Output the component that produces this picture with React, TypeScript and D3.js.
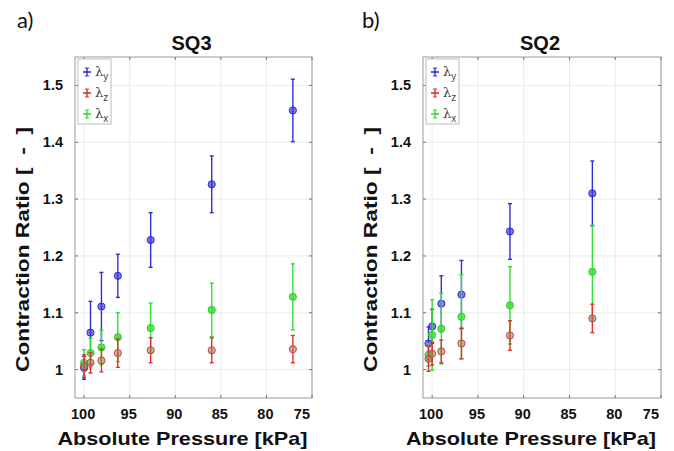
import React from 'react';
import * as d3 from 'd3';

// SQ3 (panel a)
const sq3Pressure = [100, 99.3, 98.1, 96.3, 92.7, 86.0, 77.1];
const sq3Y = [1.003, 1.065, 1.111, 1.165, 1.228, 1.326, 1.456];
const sq3YErr = [0.02, 0.055, 0.06, 0.038, 0.048, 0.05, 0.055];
const sq3Z = [1.006, 1.012, 1.016, 1.029, 1.034, 1.034, 1.036];
const sq3ZErr = [0.02, 0.018, 0.02, 0.025, 0.022, 0.022, 0.024];
const sq3X = [1.012, 1.029, 1.039, 1.057, 1.073, 1.105, 1.128];
const sq3XErr = [0.023, 0.026, 0.03, 0.043, 0.044, 0.047, 0.058];

// SQ2 (panel b)
const sq2Pressure = [100.4, 100.0, 99.0, 96.8, 91.5, 82.5];
const sq2Y = [1.046, 1.076, 1.116, 1.132, 1.243, 1.31];
const sq2YErr = [0.029, 0.03, 0.049, 0.06, 0.049, 0.057];
const sq2Z = [1.019, 1.028, 1.032, 1.046, 1.06, 1.09];
const sq2ZErr = [0.022, 0.02, 0.02, 0.027, 0.026, 0.025];
const sq2X = [1.026, 1.061, 1.072, 1.093, 1.113, 1.172];
const sq2XErr = [0.02, 0.062, 0.062, 0.074, 0.068, 0.082];

const xTicks = [100, 95, 90, 85, 80, 75];
const yTicks = [1, 1.1, 1.2, 1.3, 1.4, 1.5];
const seriesNames = ['y', 'z', 'x'];

const font = '"Liberation Sans", Arial, sans-serif';

const styles = {
  y: { line: '#3030d0', stroke: '#3030d0', fill: 'rgba(50,50,220,0.65)' },
  z: { line: '#e03030', stroke: '#d04040', fill: 'rgba(150,135,80,0.6)' },
  x: { line: '#33dd33', stroke: '#33cc33', fill: 'rgba(60,225,60,0.85)' },
};

const Panel = ({ left, right, tag, tagX, title, pressure, series }) => {
  const top = 57;
  const bottom = 398;
  const x = d3.scaleLinear().domain([101, 75]).range([left, right]);
  const y = d3.scaleLinear().domain([0.95, 1.55]).range([bottom, top]);
  const cx = (left + right) / 2;

  const drawSeries = (key, vals, errs) => {
    const st = styles[key];
    return (
      <g key={key}>
        {vals.map((v, i) => {
          const px = x(pressure[i]);
          const y0 = y(v - errs[i]);
          const y1 = y(v + errs[i]);
          return (
            <g key={i}>
              <line x1={px} x2={px} y1={y0} y2={y1} stroke={st.line} strokeWidth={1.4} />
              <line x1={px - 2} x2={px + 2} y1={y0} y2={y0} stroke={st.line} strokeWidth={1.4} />
              <line x1={px - 2} x2={px + 2} y1={y1} y2={y1} stroke={st.line} strokeWidth={1.4} />
              <circle cx={px} cy={y(v)} r={3.6} fill={st.fill} stroke={st.stroke} strokeWidth={1} />
            </g>
          );
        })}
      </g>
    );
  };

  return (
    <g fontFamily={font}>
      <text x={tagX} y={28} fontSize={22} fill="#111" fontFamily="Lato, sans-serif">{tag}</text>
      <text x={cx - 2} y={50} fontSize={20} fontWeight="bold" textAnchor="middle" fill="#111">{title}</text>
      {/* grid */}
      {xTicks.map((t) => (
        <line key={'gx' + t} x1={x(t)} x2={x(t)} y1={top} y2={bottom} stroke="#ebebeb" />
      ))}
      {yTicks.map((t) => (
        <line key={'gy' + t} x1={left} x2={right} y1={y(t)} y2={y(t)} stroke="#ebebeb" />
      ))}
      <rect x={left} y={top} width={right - left} height={bottom - top} fill="none" stroke="#9a9a9a" />
      {xTicks.map((t, i) => {
        const last = i === xTicks.length - 1;
        return (
          <g key={'tx' + t}>
            <line x1={x(t)} x2={x(t)} y1={bottom} y2={bottom - 3} stroke="#777" />
            <line x1={x(t)} x2={x(t)} y1={top} y2={top + 3} stroke="#777" />
            <text
              x={last ? x(t) - 2 : x(t) - 1}
              y={419}
              fontSize={14.5}
              fontWeight="bold"
              textAnchor={last ? 'end' : 'middle'}
              fill="#111"
            >
              {t}
            </text>
          </g>
        );
      })}
      {yTicks.map((t) => (
        <g key={'ty' + t}>
          <line x1={left} x2={left + 3} y1={y(t)} y2={y(t)} stroke="#777" />
          <line x1={right} x2={right - 3} y1={y(t)} y2={y(t)} stroke="#777" />
          <text x={left - 12} y={y(t) + 5} fontSize={14.5} fontWeight="bold" textAnchor="end" fill="#111">
            {d3.format('~g')(t)}
          </text>
        </g>
      ))}
      <text
        x={cx - 11}
        y={445}
        fontSize={19}
        fontWeight="bold"
        textAnchor="middle"
        fill="#111"
        textLength={250}
        lengthAdjust="spacingAndGlyphs"
      >
        Absolute Pressure [kPa]
      </text>
      <text
        transform={`translate(${left - 46},${(top + bottom) / 2 + 22}) rotate(-90)`}
        fontSize={19}
        fontWeight="bold"
        textAnchor="middle"
        fill="#111"
        xmlSpace="preserve"
        textLength={245}
        lengthAdjust="spacingAndGlyphs"
      >
        {'Contraction Ratio [  -  ]'}
      </text>
      {drawSeries('y', series.y, series.yErr)}
      {drawSeries('x', series.x, series.xErr)}
      {drawSeries('z', series.z, series.zErr)}
      {/* legend */}
      <rect x={left + 3} y={top + 2} width={33} height={65} fill="#fff" stroke="#bbb" />
      {seriesNames.map((k, i) => {
        const ly = top + 15 + i * 21;
        const lx = left + 12;
        const st = styles[k];
        return (
          <g key={'lg' + k}>
            <line x1={lx} x2={lx} y1={ly - 4} y2={ly + 4} stroke={st.line} strokeWidth={1.4} />
            <line x1={lx - 4} x2={lx + 4} y1={ly} y2={ly} stroke={st.line} strokeWidth={1.6} />
            <line x1={lx - 2} x2={lx + 2} y1={ly - 4} y2={ly - 4} stroke={st.line} />
            <line x1={lx - 2} x2={lx + 2} y1={ly + 4} y2={ly + 4} stroke={st.line} />
            <text x={lx + 8} y={ly + 4} fontSize={13} fill="#444" fontFamily='"DejaVu Serif", serif'>
              λ<tspan fontSize={10} dy={4} fontFamily={font}>{k}</tspan>
            </text>
          </g>
        );
      })}
    </g>
  );
};

export default function App() {
  return (
    <svg width={674} height={451} style={{ position: 'absolute', left: 0, top: 0, background: '#fff' }}>
      <rect width={674} height={451} fill="#fff" />
      <Panel
        left={75}
        right={312}
        tag="a)"
        tagX={17}
        title="SQ3"
        pressure={sq3Pressure}
        series={{ y: sq3Y, yErr: sq3YErr, z: sq3Z, zErr: sq3ZErr, x: sq3X, xErr: sq3XErr }}
      />
      <Panel
        left={423}
        right={661}
        tag="b)"
        tagX={362}
        title="SQ2"
        pressure={sq2Pressure}
        series={{ y: sq2Y, yErr: sq2YErr, z: sq2Z, zErr: sq2ZErr, x: sq2X, xErr: sq2XErr }}
      />
    </svg>
  );
}
